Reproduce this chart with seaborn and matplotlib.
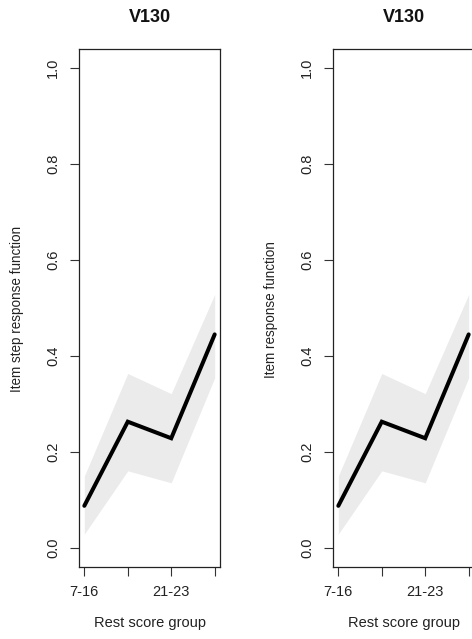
import numpy as np
import pandas as pd
import matplotlib
matplotlib.use("Agg")
import matplotlib.pyplot as plt
import seaborn as sns

# ---- data ----
group_pos = [1, 2, 3, 4]
tick_labels = ["7-16", "", "21-23", ""]
irf = [0.087, 0.2625, 0.228, 0.4446]
ci_lower = [0.028, 0.160, 0.135, 0.354]
ci_upper = [0.149, 0.363, 0.321, 0.528]
titles = ["V130", "V130"]
ylabels = ["Item step response function", "Item response function"]
xlabel = "Rest score group"
yticks = [0.0, 0.2, 0.4, 0.6, 0.8, 1.0]

sns.set_style("ticks")
plt.rcParams["font.family"] = ["Liberation Sans", "DejaVu Sans"]

df = pd.DataFrame({"group": group_pos, "irf": irf,
                   "lo": ci_lower, "hi": ci_upper})

W, H = 472, 639
fig = plt.figure(figsize=(W / 100, H / 100), dpi=100)
fig.patch.set_facecolor("white")

ax_w = 140.8
ax_top, ax_bot = 49, 566.7
lefts = [79.1, 333.1]
ylabel_cx = [17.0, 271.5]

for i, lx in enumerate(lefts):
    ax = fig.add_axes([lx / W, (H - ax_bot) / H, ax_w / W, (ax_bot - ax_top) / H])
    ax.set_facecolor("white")
    ax.fill_between(df["group"], df["lo"], df["hi"], color="#EBEBEB", lw=0, zorder=1)
    sns.lineplot(data=df, x="group", y="irf", ax=ax, color="black", lw=2.9,
                 solid_capstyle="round", solid_joinstyle="miter", zorder=3)
    ax.set_xlim(0.88, 4.12)
    ax.set_ylim(-0.04, 1.04)
    ax.set_xticks(group_pos)
    ax.set_xticklabels(tick_labels)
    ax.set_yticks(yticks)
    ax.set_yticklabels([f"{v:.1f}" for v in yticks], rotation=90, va="center")
    ax.tick_params(axis="both", length=6.5, width=0.8, color="#333333",
                   labelsize=10.5, labelcolor="#222222", pad=7)
    for sp in ax.spines.values():
        sp.set_visible(True)
        sp.set_linewidth(0.9)
        sp.set_color("#222222")
    ax.set_title(titles[i], fontsize=13, fontweight="bold", pad=19.5, color="#111111")
    ax.set_xlabel(xlabel, fontsize=10.5, labelpad=12, color="#222222")
    ax.set_ylabel(ylabels[i], fontsize=9.75, color="#222222", va="center")
    ax.yaxis.set_label_coords((ylabel_cx[i] - lx) / ax_w, 0.497)

fig.savefig("out.png", dpi=100)
